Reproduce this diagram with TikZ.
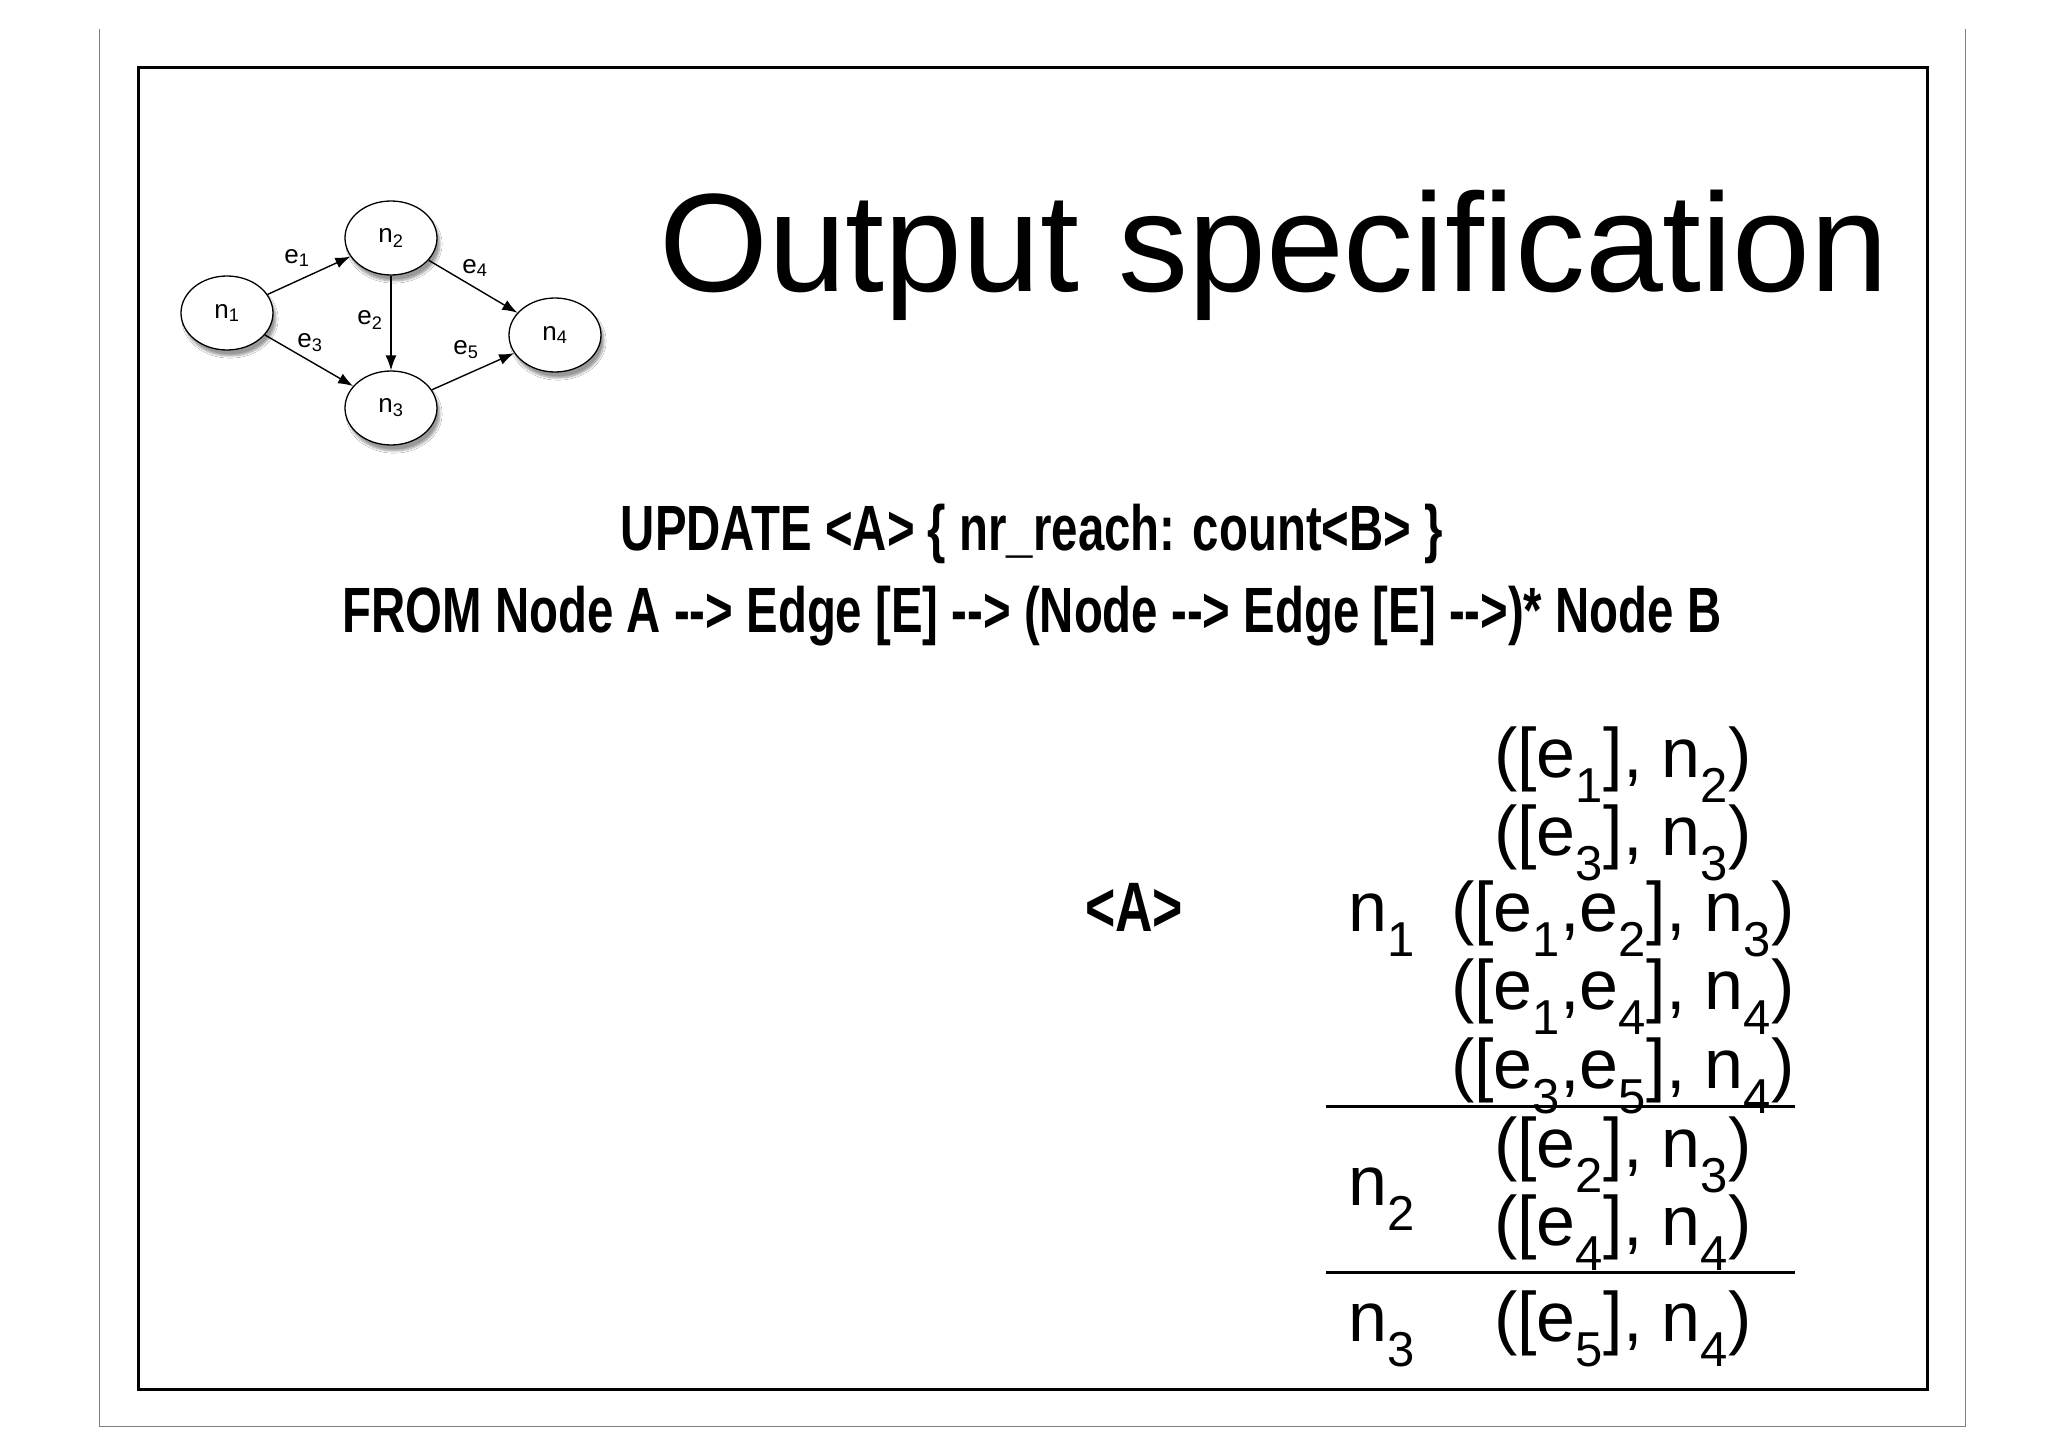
\documentclass[tikz,border=0pt]{standalone}
\usepackage{fontspec}
\setmainfont{Liberation Sans}
\newfontfamily\condfont[FakeStretch=0.74]{Liberation Sans}
\usetikzlibrary{arrows.meta,shadows.blur,shapes.geometric}
\newcommand{\mysub}[1]{\textsubscript{#1}}
\begin{document}
\begin{tikzpicture}[x=1pt,y=-1pt,
  gnode/.style={ellipse,draw,line width=1.3pt,fill=white,minimum width=92pt,minimum height=74pt,inner sep=0pt,
    font=\fontsize{26}{26}\selectfont,blur shadow={shadow xshift=3pt,shadow yshift=-6pt,shadow blur steps=6}},
  garr/.style={line width=1.4pt,-{Latex[length=15pt,width=11pt]}},
  glab/.style={font=\fontsize{26}{26}\selectfont},
  row/.style={anchor=base,font=\fontsize{70}{70}\selectfont},
  code/.style={anchor=base,font=\condfont\bfseries\fontsize{64}{64}\selectfont}]
\useasboundingbox (0,0) rectangle (2048,1447);
\fill[white] (0,0) rectangle (2048,1447);
\draw[line width=1pt,gray] (99,29) -- (99,1426) -- (1965,1426) -- (1965,29);
\draw[line width=3pt] (138,68) rectangle (1927,1389);
% graph
\node[gnode] (n1) at (227,313) {n\mysub{1}};
\node[gnode] (n2) at (391,238) {n\mysub{2}};
\node[gnode] (n3) at (391,408) {n\mysub{3}};
\node[gnode] (n4) at (555,335) {n\mysub{4}};
\draw[garr] (n1) -- (n2);
\draw[garr] (n2) -- (n3);
\draw[garr] (n1) -- (n3);
\draw[garr] (n2) -- (n4);
\draw[garr] (n3) -- (n4);
\node[glab] (l1) at (297,258) {e\mysub{1}};
\node[glab] (l2) at (370,320) {e\mysub{2}};
\node[glab] (l3) at (310,343) {e\mysub{3}};
\node[glab] (l4) at (475,268) {e\mysub{4}};
\node[glab] (l5) at (466,350) {e\mysub{5}};
% title
\node[anchor=base west,inner sep=0pt,font=\fontsize{140}{140}\selectfont] (title) at (659,292) {Output specification};
% code
\node[code] (c1) at (1032,550) {UPDATE <A> \{ nr\_reach: count<B> \}};
\node[code] (c2) at (1032,632) {FROM Node A --> Edge [E] --> (Node --> Edge [E] -->)* Node B};
% table
\node[code,font=\condfont\bfseries\fontsize{70}{70}\selectfont] (A) at (1134,931) {<A>};
\node[row] (k1) at (1382,931) {n\mysub{1}};
\node[row] (k2) at (1382,1205) {n\mysub{2}};
\node[row] (k3) at (1382,1341) {n\mysub{3}};
\node[row] (r1) at (1623,777) {([e\mysub{1}], n\mysub{2})};
\node[row] (r2) at (1623,855) {([e\mysub{3}], n\mysub{3})};
\node[row] (r3) at (1623,931) {([e\mysub{1},e\mysub{2}], n\mysub{3})};
\node[row] (r4) at (1623,1009) {([e\mysub{1},e\mysub{4}], n\mysub{4})};
\node[row] (r5) at (1623,1088) {([e\mysub{3},e\mysub{5}], n\mysub{4})};
\node[row] (r6) at (1623,1167) {([e\mysub{2}], n\mysub{3})};
\node[row] (r7) at (1623,1245) {([e\mysub{4}], n\mysub{4})};
\node[row] (r8) at (1623,1341) {([e\mysub{5}], n\mysub{4})};
\coordinate (h1a) at (1326,1106); \coordinate (h1b) at (1795,1106);
\coordinate (h2a) at (1326,1272); \coordinate (h2b) at (1795,1272);
\draw[line width=3pt] (h1a) -- (h1b);
\draw[line width=3pt] (h2a) -- (h2b);
\end{tikzpicture}
\end{document}
